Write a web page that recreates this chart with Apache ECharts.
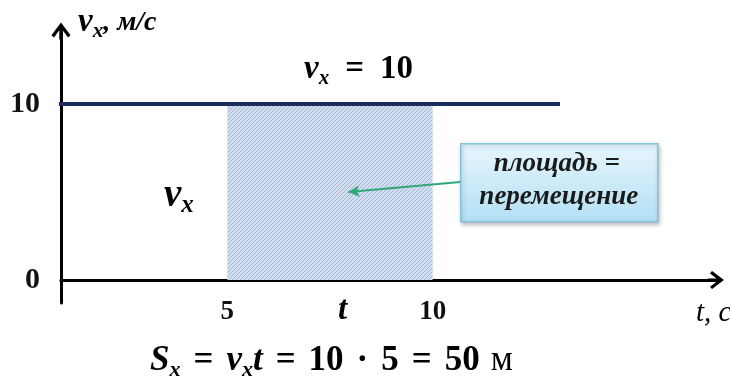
<!DOCTYPE html>
<html>
<head>
<meta charset="utf-8">
<script src="https://cdn.jsdelivr.net/npm/echarts@6/dist/echarts.min.js"></script>
<style>
  html, body { margin: 0; padding: 0; background: #ffffff; }
  #chart { width: 730px; height: 383px; }
</style>
</head>
<body>
<div id="chart"></div>
<script>
// Constant velocity v_x = 10 m/s over time
const velocityLine = [[0, 10], [13.1, 10]];
// Time interval from 5 s to 10 s whose area is the displacement
const shadedInterval = [[5, 10], [10, 10]];
// Tick labels on both axes
const timeTicks = [5, 10];
const velocityTicks = [0, 10];

const SERIF = "'Liberation Serif', 'DejaVu Serif', serif";

// Open chevron arrow head with a short stem, pointing up (rotated by the axis)
const ARROW_HEAD = 'path://M9,0 L18,12 L15.6,14 L10.6,7.4 L10.6,16 L7.4,16 L7.4,7.4 L2.4,14 L0,12 Z';

// Diagonal hatch fill for the area under the graph
function hatchPattern() {
  const c = document.createElement('canvas');
  c.width = 4; c.height = 4;
  const g = c.getContext('2d');
  g.fillStyle = '#d2def0';
  g.fillRect(0, 0, 4, 4);
  g.strokeStyle = '#a2b6d6';
  g.lineWidth = 1;
  g.beginPath();
  g.moveTo(-1, 5); g.lineTo(5, -1);
  g.moveTo(-1, 1); g.lineTo(1, -1);
  g.moveTo(3, 5); g.lineTo(5, 3);
  g.stroke();
  return c;
}

const chart = echarts.init(document.getElementById('chart'), null, { renderer: 'canvas' });

const axisLineStyle = { color: '#000000', width: 3 };
const tickLabelStyle = {
  fontFamily: SERIF, fontWeight: 'bold', fontSize: 30, color: '#111111'
};

// Rich text styles for the formulas (italic symbols, subscripts, spaced operators)
function mathRich(size, opPad) {
  const sub = Math.round(size * 0.64);
  const pad = opPad != null ? opPad : Math.round(size * 0.28);
  const base = { fontFamily: SERIF, fontSize: size, lineHeight: size + 6, color: '#111' };
  return {
    v: Object.assign({}, base, { fontStyle: 'italic', fontWeight: 'bold' }),
    s: { fontFamily: SERIF, fontStyle: 'italic', fontWeight: 'bold', fontSize: sub, lineHeight: sub + 2, verticalAlign: 'bottom', color: '#111' },
    n: Object.assign({}, base, { fontWeight: 'bold' }),
    o: Object.assign({}, base, { fontWeight: 'bold', padding: [0, pad, 0, pad] }),
    i: Object.assign({}, base, { fontStyle: 'italic' }),
    r: Object.assign({}, base, { padding: [0, 0, 0, Math.round(size * 0.3)] })
  };
}

const option = {
  animation: false,
  backgroundColor: '#ffffff',
  grid: { left: 61, right: 14, top: 31, bottom: 80 },
  xAxis: {
    type: 'value',
    min: 0.95,
    max: 16.9,
    splitLine: { show: false },
    axisTick: { show: false },
    axisLine: {
      onZero: true,
      symbol: ['none', ARROW_HEAD],
      symbolSize: [18, 16],
      lineStyle: axisLineStyle
    },
    axisLabel: Object.assign({ customValues: timeTicks, margin: -4 }, tickLabelStyle, { fontSize: 27 })
  },
  yAxis: {
    type: 'value',
    min: -1.3,
    max: 14.15,
    splitLine: { show: false },
    axisTick: { show: false },
    axisLine: {
      symbol: ['none', ARROW_HEAD],
      symbolSize: [20, 17],
      lineStyle: axisLineStyle
    },
    axisLabel: Object.assign({ customValues: velocityTicks, margin: 21 }, tickLabelStyle)
  },
  series: [
    {
      name: 'площадь',
      type: 'line',
      data: shadedInterval,
      symbol: 'none',
      lineStyle: { width: 0 },
      areaStyle: { color: { image: hatchPattern(), repeat: 'repeat' }, opacity: 1 },
      z: 1,
      markLine: {
        silent: true,
        symbol: ['none', 'arrow'],
        symbolSize: [9, 11],
        label: { show: false },
        lineStyle: { color: '#2fa874', width: 2, type: 'solid' },
        data: [[{ coord: [10.67, 5.57] }, { coord: [7.95, 5.0] }]]
      }
    },
    {
      name: 'v_x',
      type: 'line',
      data: velocityLine,
      symbol: 'none',
      lineStyle: { color: '#1b2b5e', width: 4 },
      z: 3
    }
  ],
  graphic: [
    {
      type: 'text', left: 78, top: 6,
      style: { text: '{v|v}{s|x}{i|, м/с}', rich: Object.assign(mathRich(33), {
        i: { fontFamily: SERIF, fontStyle: 'italic', fontWeight: 'bold', fontSize: 28, lineHeight: 39, color: '#111' }
      }) }
    },
    {
      type: 'text', left: 304, top: 53,
      style: { text: '{v|v}{s|x}{o|=}{n|10}', rich: mathRich(33, 16) }
    },
    {
      type: 'text', left: 164, top: 176,
      style: { text: '{v|v}{s|x}', rich: mathRich(39) }
    },
    {
      type: 'text', left: 338, top: 294,
      style: { text: '{v|t}', rich: mathRich(33) }
    },
    {
      type: 'text', left: 696, top: 299,
      style: { text: '{i|t, с}', rich: mathRich(29) }
    },
    {
      type: 'text', left: 150, top: 343,
      style: {
        text: '{v|S}{s|x}{o|=}{v|v}{s|x}{v|t}{o|=}{n|10}{o|·}{n|5}{o|=}{n|50}{r|м}',
        rich: mathRich(35, 13)
      }
    },
    {
      type: 'group', left: 460, top: 143,
      children: [
        {
          type: 'rect',
          shape: { x: 0, y: 0, width: 197, height: 78 },
          style: {
            fill: {
              type: 'linear', x: 0, y: 0, x2: 0, y2: 1,
              colorStops: [{ offset: 0, color: '#e6f6fd' }, { offset: 1, color: '#b3dff4' }]
            },
            stroke: '#84c2de', lineWidth: 1.5,
            shadowBlur: 4, shadowOffsetX: 1, shadowOffsetY: 2, shadowColor: 'rgba(0,0,0,0.25)'
          }
        },
        {
          type: 'text', x: 96, y: 20,
          style: {
            text: 'площадь =', align: 'center', verticalAlign: 'middle',
            fontFamily: SERIF, fontStyle: 'italic', fontWeight: 'bold', fontSize: 27, fill: '#1a1a1a'
          }
        },
        {
          type: 'text', x: 98, y: 53,
          style: {
            text: 'перемещение', align: 'center', verticalAlign: 'middle',
            fontFamily: SERIF, fontStyle: 'italic', fontWeight: 'bold', fontSize: 27, fill: '#1a1a1a'
          }
        }
      ]
    }
  ]
};

chart.setOption(option);
</script>
</body>
</html>
